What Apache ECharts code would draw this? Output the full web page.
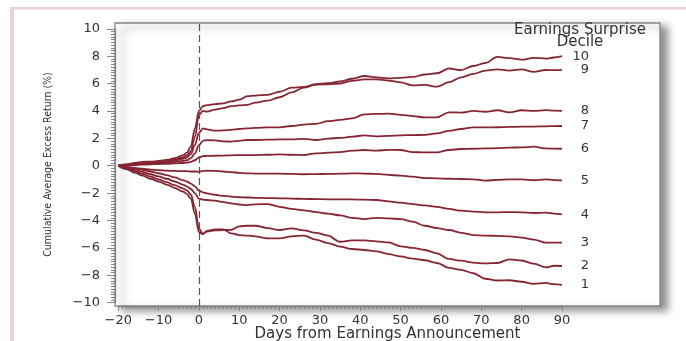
<!DOCTYPE html>
<html>
<head>
<meta charset="utf-8">
<style>
  html, body { margin: 0; padding: 0; background: #ffffff; }
  #chart { width: 686px; height: 341px; }
</style>
<script src="https://cdn.jsdelivr.net/npm/echarts/dist/echarts.min.js"></script>
</head>
<body>
<div id="chart"></div>
<script>
// ---- data ----
const days = [-20,-18,-16,-14,-12,-10,-8,-6,-4,-3,-2,-1,0,1,2,4,6,8,10,12,14,17,20,23,26,29,32,35,38,41,44,47,50,53,56,59,62,65,68,71,74,77,80,83,86,88,90];

const decile10 = [0,0.08,0.2,0.28,0.3,0.35,0.42,0.55,0.75,0.95,1.4,2.7,4.0,4.35,4.42,4.5,4.55,4.7,4.82,5.08,5.12,5.18,5.4,5.7,5.75,5.95,6.02,6.15,6.35,6.55,6.45,6.38,6.42,6.48,6.66,6.75,7.1,6.98,7.28,7.5,7.95,7.85,7.74,7.88,7.82,7.9,8.0];
const decile9  = [0,0.1,0.15,0.2,0.25,0.28,0.35,0.45,0.6,0.75,1.05,2.1,3.7,4.0,3.95,4.1,4.2,4.35,4.4,4.45,4.6,4.75,5.0,5.35,5.7,5.92,5.95,6.0,6.2,6.3,6.3,6.22,6.08,5.86,5.9,5.77,6.1,6.45,6.7,6.95,7.04,6.94,7.04,6.85,6.99,6.98,7.0];
const decile8  = [0,0.05,0.12,0.18,0.2,0.25,0.3,0.38,0.5,0.6,0.85,1.5,2.4,2.72,2.65,2.56,2.58,2.62,2.68,2.73,2.76,2.8,2.8,2.9,3.0,3.06,3.25,3.35,3.45,3.75,3.78,3.8,3.72,3.62,3.53,3.53,3.9,3.88,4.0,3.94,4.05,3.9,4.05,4.0,4.06,4.03,4.0];
const decile7  = [0,0.05,0.1,0.12,0.15,0.18,0.22,0.28,0.35,0.4,0.55,0.9,1.5,1.82,1.87,1.85,1.78,1.76,1.82,1.88,1.88,1.9,1.92,1.93,1.96,1.88,1.98,2.03,2.12,2.22,2.15,2.18,2.22,2.24,2.25,2.36,2.55,2.68,2.8,2.8,2.81,2.83,2.85,2.86,2.88,2.89,2.9];
const decile6  = [0,0.02,0.05,0.08,0.1,0.12,0.14,0.17,0.2,0.22,0.28,0.4,0.6,0.7,0.72,0.73,0.74,0.76,0.78,0.78,0.78,0.8,0.83,0.8,0.78,0.9,0.95,1.0,1.1,1.15,1.1,1.16,1.15,1.0,0.97,0.97,1.15,1.22,1.24,1.26,1.28,1.32,1.34,1.39,1.26,1.25,1.24];
const decile5  = [0,-0.08,-0.15,-0.22,-0.28,-0.32,-0.36,-0.38,-0.4,-0.4,-0.42,-0.42,-0.44,-0.38,-0.36,-0.38,-0.42,-0.47,-0.52,-0.56,-0.57,-0.58,-0.58,-0.6,-0.62,-0.61,-0.6,-0.58,-0.56,-0.57,-0.6,-0.67,-0.72,-0.8,-0.9,-0.92,-0.95,-0.97,-0.99,-1.09,-1.03,-0.99,-1.0,-1.06,-0.99,-1.05,-1.07];
const decile4  = [0,-0.1,-0.2,-0.3,-0.42,-0.55,-0.68,-0.85,-1.05,-1.15,-1.3,-1.5,-1.82,-1.95,-2.02,-2.12,-2.2,-2.25,-2.3,-2.32,-2.34,-2.36,-2.38,-2.4,-2.42,-2.44,-2.45,-2.45,-2.46,-2.48,-2.5,-2.6,-2.7,-2.8,-2.9,-3.0,-3.15,-3.28,-3.35,-3.4,-3.4,-3.38,-3.4,-3.45,-3.43,-3.5,-3.55];
const decile3  = [0,-0.15,-0.3,-0.45,-0.62,-0.78,-0.95,-1.15,-1.38,-1.5,-1.7,-2.0,-2.4,-2.48,-2.5,-2.55,-2.65,-2.75,-2.83,-2.87,-2.82,-2.8,-3.0,-3.15,-3.26,-3.38,-3.5,-3.62,-3.8,-3.9,-3.8,-3.84,-3.9,-4.08,-4.38,-4.55,-4.69,-4.9,-5.06,-5.1,-5.12,-5.15,-5.25,-5.4,-5.62,-5.62,-5.62];
const decile2  = [0,-0.2,-0.4,-0.6,-0.8,-1.0,-1.2,-1.42,-1.65,-1.8,-2.1,-3.0,-4.6,-4.95,-4.8,-4.72,-4.7,-4.68,-4.42,-4.38,-4.38,-4.55,-4.69,-4.57,-4.72,-4.9,-5.1,-5.55,-5.45,-5.45,-5.52,-5.6,-5.88,-6.0,-6.15,-6.4,-6.8,-6.93,-7.08,-7.13,-7.1,-6.83,-6.92,-7.15,-7.42,-7.3,-7.32];
const decile1  = [0,-0.25,-0.5,-0.72,-0.95,-1.15,-1.38,-1.62,-1.88,-2.05,-2.4,-3.5,-4.85,-5.0,-4.75,-4.65,-4.64,-4.94,-5.06,-5.1,-5.15,-5.3,-5.3,-5.15,-5.1,-5.4,-5.65,-5.9,-6.08,-6.15,-6.25,-6.45,-6.62,-6.78,-6.9,-7.1,-7.45,-7.6,-7.85,-8.25,-8.38,-8.36,-8.47,-8.62,-8.55,-8.65,-8.7];

const decileNames = ['1','2','3','4','5','6','7','8','9','10'];
const decileValues = [decile1,decile2,decile3,decile4,decile5,decile6,decile7,decile8,decile9,decile10];

// tick labels (axis ranges of the labelled axes)
const xTickLabels = [-20,-10,0,10,20,30,40,50,60,70,80,90];
const yTickLabels = [-10,-8,-6,-4,-2,0,2,4,6,8,10];
const eventDay = 0;

const xTitle = 'Days from Earnings Announcement';
const yTitle = 'Cumulative Average Excess Return (%)';
const legendTitle = 'Earnings Surprise\nDecile';

const fmtMinus = v => (v < 0 ? '\u2212' + Math.abs(v) : String(v));

const lineColor = '#862634';
const textColor = '#333333';
const axisColor = '#858585';
const labelFont = 'DejaVu Sans';

// plot window (data range shown inside the frame)
const xMin = -20.8, xMax = 114.3, yMin = -10.24, yMax = 10.42;
const G = { left: 115, top: 23, right: 26, bottom: 35 };
const W = 686 - G.left - G.right, H = 341 - G.top - G.bottom;
const pxX = v => G.left + (v - xMin) / (xMax - xMin) * W;
const pxY = v => G.top + (yMax - v) / (yMax - yMin) * H;

const series = decileNames.map((name, i) => {
  const s = {
    name: name,
    type: 'line',
    xAxisIndex: 0,
    yAxisIndex: 0,
    data: days.map((d, j) => [d, decileValues[i][j]]),
    showSymbol: false,
    symbol: 'none',
    smooth: 0.35,
    smoothMonotone: 'x',
    lineStyle: { color: lineColor, width: 1.8 },
    itemStyle: { color: lineColor },
    endLabel: {
      show: true,
      formatter: '{a}',
      color: textColor,
      fontFamily: labelFont,
      fontSize: 13,
      distance: 27,
      align: 'right'
    },
    z: 3
  };
  if (i === 0) {
    s.markLine = {
      silent: true,
      symbol: ['none', 'none'],
      label: { show: false },
      lineStyle: { color: '#555555', type: [7, 4], width: 1.2 },
      data: [{ xAxis: eventDay }]
    };
  }
  return s;
});

const xFirst = xTickLabels[0], xLast = xTickLabels[xTickLabels.length - 1];
const yFirst = yTickLabels[0], yLast = yTickLabels[yTickLabels.length - 1];

const chart = echarts.init(document.getElementById('chart'), null, { renderer: 'canvas' });
chart.setOption({
  animation: false,
  backgroundColor: '#ffffff',
  grid: [
    { // frame + data
      left: G.left, top: G.top, right: G.right, bottom: G.bottom,
      show: true,
      backgroundColor: '#ffffff',
      borderColor: '#858585',
      borderWidth: 1.3,
      shadowColor: 'rgba(0,0,0,0.45)',
      shadowBlur: 8,
      shadowOffsetX: 7,
      shadowOffsetY: 4
    },
    { // y ticks: spans exactly the labelled range
      left: G.left, right: G.right,
      top: pxY(yLast), bottom: 341 - pxY(yFirst)
    },
    { // x ticks: spans exactly the labelled range
      left: pxX(xFirst), right: 686 - pxX(xLast),
      top: G.top, bottom: G.bottom
    }
  ],
  xAxis: [
    { gridIndex: 0, type: 'value', min: xMin, max: xMax, show: false },
    { gridIndex: 1, type: 'value', min: 0, max: 1, show: false },
    {
      gridIndex: 2, type: 'value', min: xFirst, max: xLast, interval: 10,
      axisLine: { show: true, onZero: false, lineStyle: { color: axisColor, width: 1.3 } },
      axisTick: { show: true, length: 5, lineStyle: { color: axisColor } },
      minorTick: { show: true, splitNumber: 10, length: 3, lineStyle: { color: axisColor } },
      axisLabel: { show: true, formatter: fmtMinus, color: textColor, fontFamily: labelFont, fontSize: 13, margin: 8 },
      splitLine: { show: false }, minorSplitLine: { show: false }
    }
  ],
  yAxis: [
    { gridIndex: 0, type: 'value', min: yMin, max: yMax, show: false },
    {
      gridIndex: 1, type: 'value', min: yFirst, max: yLast, interval: 2,
      axisLine: { show: true, onZero: false, lineStyle: { color: axisColor, width: 1.3 } },
      axisTick: { show: true, length: 8, lineStyle: { color: axisColor } },
      minorTick: { show: true, splitNumber: 10, length: 4, lineStyle: { color: axisColor } },
      axisLabel: { show: true, formatter: fmtMinus, color: textColor, fontFamily: labelFont, fontSize: 13, margin: 15 },
      splitLine: { show: false }, minorSplitLine: { show: false }
    },
    { gridIndex: 2, type: 'value', min: 0, max: 1, show: false }
  ],
  series: series,
  graphic: [
    { type: 'rect', shape: { x: 10, y: 7, width: 676, height: 2.5 }, style: { fill: '#ecd2d6' }, silent: true },
    { type: 'rect', shape: { x: 10, y: 7, width: 4, height: 334 }, style: { fill: '#ecd2d6' }, silent: true },
    {
      type: 'text', x: 580, y: 24,
      style: { text: legendTitle, align: 'center', verticalAlign: 'top', fill: textColor, font: '15px "DejaVu Sans"', lineHeight: 12 },
      z: 10
    },
    {
      type: 'text', x: 387.5, y: 334,
      style: { text: xTitle, align: 'center', verticalAlign: 'middle', fill: textColor, font: '15px "DejaVu Sans"' }
    },
    {
      type: 'text', x: 48, y: 164.5, rotation: Math.PI / 2,
      style: { text: yTitle, align: 'center', verticalAlign: 'middle', fill: textColor, font: '10.5px "Liberation Sans Narrow", "DejaVu Sans Condensed", sans-serif' }
    }
  ]
});
</script>
</body>
</html>
